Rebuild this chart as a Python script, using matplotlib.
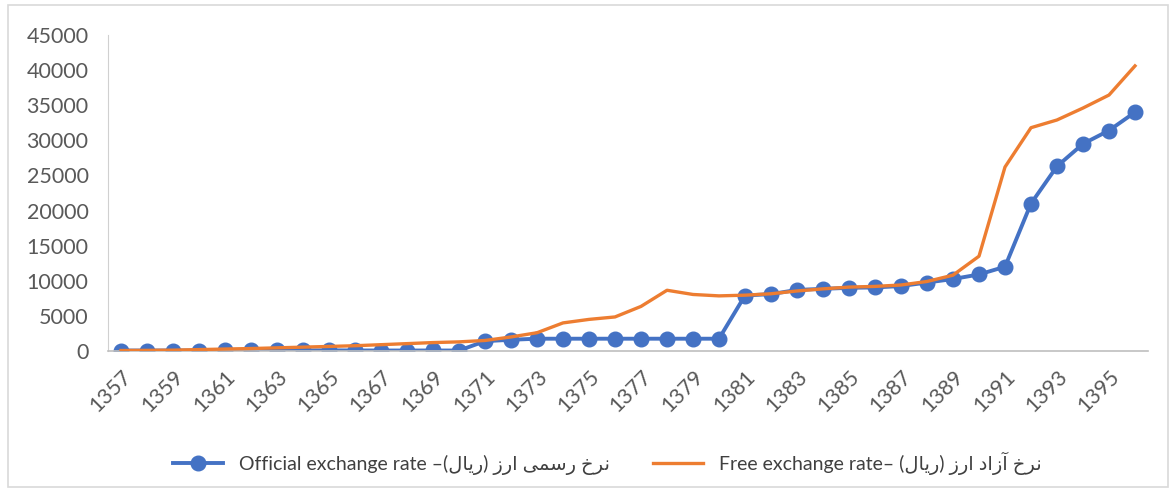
import matplotlib
matplotlib.use('Agg')
import matplotlib.pyplot as plt
from matplotlib.patches import Rectangle

plt.rcParams['font.family'] = ['Lato', 'DejaVu Sans']

years = list(range(1357, 1397))

# official exchange rate (rial)
official = [71, 71, 71, 70, 75, 80, 85, 90, 92, 78, 70, 68, 72, 65,
            1400, 1600, 1750, 1750, 1750, 1750, 1750, 1750, 1750, 1750,
            7900, 8100, 8700, 8850, 9000, 9050, 9250, 9750, 10250, 10900,
            12000, 21000, 26300, 29500, 31400, 34000]

# free exchange rate (rial)
free = [70, 90, 120, 200, 280, 350, 450, 550, 650, 750, 900, 1050, 1200, 1300,
        1500, 2000, 2600, 4000, 4500, 4850, 6350, 8650, 8050, 7850,
        7950, 8150, 8550, 8850, 9100, 9200, 9400, 9900, 10800, 13500,
        26200, 31800, 32900, 34600, 36450, 40600]

xticks = years[::2]
yticks = list(range(0, 45001, 5000))

# persian parts written as presentation forms, in visual order
fa_nerkh = '\uFEA5\uFEAE\uFEE7'
fa_rasmi = '\uFEF0\uFEE4\uFEB3\uFEAD'
fa_arz = '\uFEAF\uFEAD\uFE8D'
fa_rial = '\uFEDD\uFE8E\uFEF3\uFEAD'
fa_azad = '\uFEA9\uFE8D\uFEAF\uFE81'

lab_official = 'Official exchange rate \u2013(' + fa_rial + ') ' + fa_arz + ' ' + fa_rasmi + ' ' + fa_nerkh
lab_free = 'Free exchange rate\u2013 (' + fa_rial + ') ' + fa_arz + ' ' + fa_azad + ' ' + fa_nerkh

fig = plt.figure(figsize=(11.75, 4.97), dpi=100)
ax = fig.add_axes([108/1175, 146/497, (1148-108)/1175, (351-35)/497])

ax.plot(years, official, color='#4472C4', lw=2.8, marker='o', ms=10.5,
        label=lab_official, zorder=2)
ax.plot(years, free, color='#ED7D31', lw=2.4, label=lab_free, zorder=3)

ax.set_xlim(1356.5, 1396.5)
ax.set_ylim(0, 45000)
ax.set_yticks(yticks)
ax.set_xticks(xticks)
ax.set_xticklabels([str(y) for y in xticks], rotation=45, ha='right',
                   va='top', rotation_mode='anchor')
ax.tick_params(axis='both', length=0, labelsize=15.5, labelcolor='#595959')
ax.tick_params(axis='x', pad=11)
ax.tick_params(axis='y', pad=14)

for s in ['top', 'right']:
    ax.spines[s].set_visible(False)
ax.spines['left'].set_color('#d0d0d0')
ax.spines['bottom'].set_color('#bfbfbf')
ax.spines['bottom'].set_linewidth(1.2)

fig.legend(loc='center', bbox_to_anchor=(607/1175, 1 - 463/497), ncol=2,
           frameon=False, fontsize=14, handlelength=2.6, columnspacing=2.2,
           labelcolor='#404040')

fig.patches.append(Rectangle((8/1175, 10/497), 1160/1175, 482/497,
                             transform=fig.transFigure, fill=False,
                             edgecolor='#d9d9d9', lw=1.2))

fig.savefig('out.png', dpi=100)
